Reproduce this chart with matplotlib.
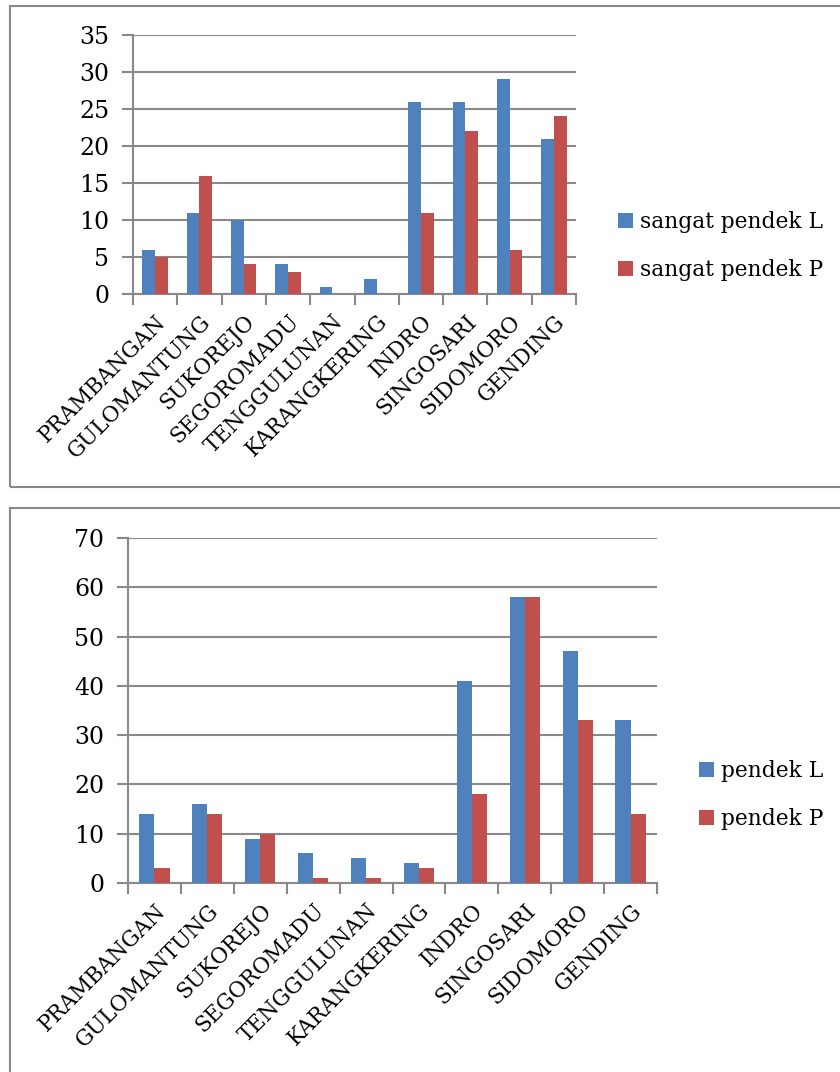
import numpy as np
import matplotlib
matplotlib.use("Agg")
import matplotlib.pyplot as plt
from matplotlib.patches import Rectangle

plt.rcParams['font.family'] = ['DejaVu Serif']

# data
desa = ["PRAMBANGAN", "GULOMANTUNG", "SUKOREJO", "SEGOROMADU", "TENGGULUNAN",
        "KARANGKERING", "INDRO", "SINGOSARI", "SIDOMORO", "GENDING"]
sangat_pendek_L = [6, 11, 10, 4, 1, 2, 26, 26, 29, 21]
sangat_pendek_P = [5, 16, 4, 3, 0, 0, 11, 22, 6, 24]
pendek_L = [14, 16, 9, 6, 5, 4, 41, 58, 47, 33]
pendek_P = [3, 14, 10, 1, 1, 3, 18, 58, 33, 14]

blue = "#4F81BD"
red = "#C0504D"
grey = "#898989"

W, H = 840, 1072
fig = plt.figure(figsize=(W / 100, H / 100), dpi=100)

# outer boxes round each chart
fig.patches.append(Rectangle((10 / W, 1 - 487 / H), 840 / W, 481 / H,
                             transform=fig.transFigure, fill=False,
                             edgecolor=grey, linewidth=1.5))
fig.patches.append(Rectangle((10 / W, -0.05), 840 / W, 0.05 + 1 - 508 / H,
                             transform=fig.transFigure, fill=False,
                             edgecolor=grey, linewidth=1.5))


def draw(rect, L, P, ymax, step, labels, leg_xy):
    ax = fig.add_axes(rect)
    x = np.arange(len(desa))
    w = 1 / 3.5
    ax.bar(x - w / 2, L, w, color=blue, label=labels[0], zorder=3)
    ax.bar(x + w / 2, P, w, color=red, label=labels[1], zorder=3)
    ax.set_xlim(-0.5, len(desa) - 0.5)
    ax.set_ylim(0, ymax)
    ax.set_yticks(np.arange(0, ymax + 1, step))
    ax.yaxis.grid(True, color=grey, linewidth=1.5, zorder=0)
    ax.set_axisbelow(True)
    for s in ["top", "right"]:
        ax.spines[s].set_visible(False)
    for s in ["left", "bottom"]:
        ax.spines[s].set_color(grey)
        ax.spines[s].set_linewidth(1.5)
    ax.tick_params(axis='y', length=8, width=1.5, color=grey, labelsize=17, pad=9)
    ax.set_xticks(np.arange(-0.5, len(desa), 1))
    ax.set_xticklabels([])
    ax.tick_params(axis='x', which='major', length=8, width=1.5, color=grey)
    ax.set_xticks(x, minor=True)
    ax.set_xticklabels(desa, minor=True, rotation=45, ha='right',
                       rotation_mode='anchor', fontsize=15.5)
    ax.tick_params(axis='x', which='minor', length=0, pad=12)
    ax.legend(loc='center left', bbox_to_anchor=leg_xy,
              bbox_transform=fig.transFigure, frameon=False, borderpad=0,
              borderaxespad=0, fontsize=15.7, handlelength=0.7,
              handleheight=0.7, handletextpad=0.3, labelspacing=1.2)
    return ax


draw([133 / W, 1 - 294 / H, 443 / W, 259 / H], sangat_pendek_L, sangat_pendek_P,
     35, 5, ["sangat pendek L", "sangat pendek P"], (618 / W, 1 - 246 / H))
draw([128 / W, 1 - 883 / H, 529 / W, 345 / H], pendek_L, pendek_P,
     70, 10, ["pendek L", "pendek P"], (699 / W, 1 - 795 / H))

fig.savefig("out.png", dpi=100)
